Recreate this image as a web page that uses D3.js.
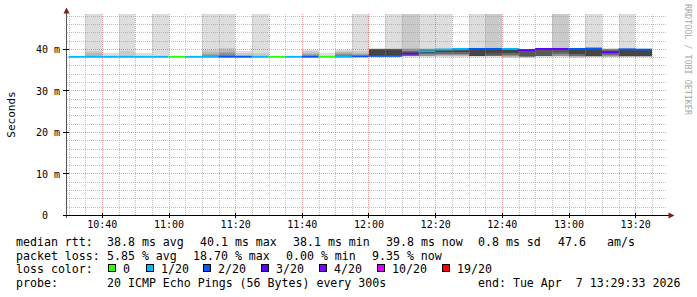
<!DOCTYPE html>
<html><head><meta charset="utf-8">
<script src="https://cdn.jsdelivr.net/npm/d3@7"></script>
<style>
html,body{margin:0;padding:0;background:#fff;}
svg{display:block;}
text{font-family:"DejaVu Sans Mono",monospace;fill:#000;}
</style></head><body>
<svg id="c" width="697" height="297"></svg>
<script>
// ---------------- data ----------------
const startTime = "2026-04-07T10:29:33";
const endTime   = "2026-04-07T13:29:33";
const stepSeconds = 300;
// end time of each 5-minute step
const stepEnds = ["10:35","10:40","10:45","10:50","10:55","11:00","11:05","11:10","11:15","11:20",
  "11:25","11:30","11:35","11:40","11:45","11:50","11:55","12:00","12:05","12:10",
  "12:15","12:20","12:25","12:30","12:35","12:40","12:45","12:50","12:55","13:00",
  "13:05","13:10","13:15","13:20","13:25"];
// median rtt (ms) per step
const medians = [38.1,38.1,38.1,38.1,38.1,38.1,38.1,38.1,38.1,38.1,
  38.1,38.1,38.1,38.1,38.1,38.1,38.1,38.2,38.3,38.3,
  38.85,39.4,39.85,40.0,40.0,40.0,40.0,39.7,40.0,40.0,
  40.0,40.1,39.2,39.9,39.8];
// lost pings (of 20) per step
const lossCount = [1,1,1,1,1,1,0,1,1,2,
  2,1,0,1,2,0,1,2,2,2,
  3,1,1,1,2,2,1,3,3,3,
  2,2,3,2,2];
// received ping rtts (ms, sorted) per step
const pings = [
  [38.0,38.0,38.1,38.1,38.1,38.1,38.1,38.1,38.1,38.1,38.1,38.1,38.1,38.1,38.1,38.1,38.1,38.2,38.2],
  [38.0,38.0,38.1,38.1,38.1,38.1,38.1,38.1,38.1,38.1,38.1,38.1,38.2,38.2,38.3,38.4,38.9,39.6,55],
  [38.0,38.1,38.1,38.1,38.1,38.1,38.1,38.1,38.1,38.1,38.1,38.1,38.1,38.1,38.1,38.1,38.1,38.2,39.0],
  [38.0,38.1,38.1,38.1,38.1,38.1,38.1,38.1,38.1,38.1,38.1,38.1,38.1,38.1,38.1,38.3,38.4,39.4,55],
  [38.0,38.1,38.1,38.1,38.1,38.1,38.1,38.1,38.1,38.1,38.1,38.1,38.1,38.1,38.1,38.1,38.1,38.2,39.0],
  [38.0,38.1,38.1,38.1,38.1,38.1,38.1,38.1,38.1,38.1,38.1,38.1,38.1,38.1,38.1,38.1,38.1,38.3,60],
  [38.0,38.1,38.1,38.1,38.1,38.1,38.1,38.1,38.1,38.1,38.1,38.1,38.1,38.1,38.1,38.1,38.1,38.1,38.1,38.2],
  [38.0,38.1,38.1,38.1,38.1,38.1,38.1,38.1,38.1,38.1,38.1,38.1,38.1,38.1,38.1,38.1,38.1,38.1,38.2],
  [38.0,38.1,38.1,38.1,38.1,38.1,38.1,38.1,38.1,38.1,38.1,38.1,38.1,38.3,38.5,38.8,39.3,39.7,58],
  [38.0,38.1,38.1,38.1,38.1,38.1,38.1,38.1,38.1,38.1,38.1,38.3,38.6,38.9,39.3,39.8,40.2,62],
  [38.0,38.1,38.1,38.1,38.1,38.1,38.1,38.1,38.1,38.1,38.1,38.1,38.1,38.1,38.3,38.6,39.0,39.4],
  [38.0,38.1,38.1,38.1,38.1,38.1,38.1,38.1,38.1,38.1,38.1,38.1,38.1,38.1,38.1,38.1,38.4,39.0,56],
  [38.0,38.1,38.1,38.1,38.1,38.1,38.1,38.1,38.1,38.1,38.1,38.1,38.1,38.1,38.1,38.1,38.1,38.1,38.1,38.2],
  [38.0,38.1,38.1,38.1,38.1,38.1,38.1,38.1,38.1,38.1,38.1,38.1,38.1,38.1,38.1,38.1,38.1,38.1,38.2],
  [38.0,38.1,38.1,38.1,38.1,38.1,38.1,38.1,38.1,38.1,38.1,38.1,38.3,38.5,38.8,39.1,39.5,39.8],
  [38.0,38.1,38.1,38.1,38.1,38.1,38.1,38.1,38.1,38.1,38.1,38.1,38.1,38.1,38.1,38.1,38.1,38.1,38.2,39.0],
  [38.0,38.1,38.1,38.1,38.1,38.1,38.1,38.1,38.1,38.1,38.1,38.1,38.3,38.5,38.7,39.0,39.3,39.6,39.8],
  [38.1,38.2,38.2,38.2,38.2,38.2,38.2,38.2,38.2,38.2,38.2,38.2,38.2,38.4,38.7,39.1,39.6,60],
  [38.1,38.1,38.2,38.2,38.2,38.2,38.2,38.2,38.3,39.8,39.9,39.9,39.9,39.9,40.0,40.0,40.0,40.1],
  [38.1,38.2,38.2,38.2,38.2,38.2,38.2,38.2,38.3,39.8,39.9,39.9,39.9,40.0,40.0,40.0,40.1,60],
  [38.1,38.2,38.2,38.2,38.4,38.4,38.4,38.8,39.1,39.3,39.5,39.6,39.8,40.0,40.1,55,60],
  [38.1,38.2,38.2,38.4,38.4,38.7,38.7,39.0,39.0,39.3,39.4,39.6,39.8,39.8,39.9,39.9,40.0,40.1,58],
  [38.1,38.2,38.2,38.5,38.5,38.8,38.8,39.2,39.2,39.5,39.5,39.8,39.9,39.9,39.9,40.0,40.0,40.1,60],
  [38.1,38.2,38.2,38.5,38.5,38.8,38.8,39.2,39.2,39.6,39.6,39.9,39.9,40.0,40.0,40.0,40.1,40.1,40.2],
  [38.1,38.2,38.2,38.2,38.3,38.3,38.3,38.4,38.4,39.9,40.0,40.0,40.0,40.0,40.1,40.1,40.2,58],
  [38.1,38.2,38.2,38.2,38.3,38.3,38.3,38.5,39.0,39.9,40.0,40.0,40.0,40.0,40.1,40.1,55,62],
  [37.8,38.0,38.0,38.2,38.2,38.5,38.5,38.9,38.9,39.4,39.9,39.9,40.0,40.0,40.0,40.1,40.1,40.2,40.3],
  [37.9,38.0,38.0,38.1,38.1,38.1,38.2,38.2,39.7,39.8,39.8,39.8,39.9,39.9,39.9,40.0,40.0],
  [38.1,38.2,38.2,38.2,38.3,38.3,38.3,38.3,40.0,40.0,40.0,40.1,40.1,40.1,40.1,40.2,40.2],
  [38.1,38.2,38.2,38.4,38.4,38.7,38.7,39.2,39.9,40.0,40.0,40.0,40.1,40.1,40.1,55,60],
  [37.8,38.0,38.0,38.2,38.2,38.4,38.4,38.8,38.8,39.9,40.0,40.0,40.0,40.0,40.1,40.1,40.1,40.2],
  [38.0,38.1,38.1,38.2,38.2,38.2,38.3,38.3,38.3,40.0,40.1,40.1,40.1,40.1,40.2,40.2,40.3,58],
  [38.0,38.1,38.1,38.3,38.3,38.6,38.6,39.0,39.2,39.5,39.7,39.7,39.9,39.9,39.9,40.0,40.1],
  [38.0,38.1,38.1,38.2,38.2,38.2,38.3,38.3,38.3,39.8,39.9,39.9,39.9,40.0,40.0,40.0,40.1,57],
  [38.0,38.1,38.1,38.2,38.2,38.2,38.3,38.3,38.3,39.7,39.8,39.8,39.8,39.9,39.9,39.9,40.0,40.1]
];
const yMax = 48.4;
const yTicks = [0,10,20,30,40];
const yTickLabels = ["0  ","10 m","20 m","30 m","40 m"];
const xTickLabels = ["10:40","11:00","11:20","11:40","12:00","12:20","12:40","13:00","13:20"];
const lossLevels = [0,1,2,3,4,10,19];
const lossLabels = ["0","1/20","2/20","3/20","4/20","10/20","19/20"];
const lossColors = ["#26ff00","#00b8ff","#0059ff","#5e00ff","#7e00ff","#dd00ff","#ff0000"];
const yTitle = "Seconds";
const rttLabel = "median rtt:";
const rttStats = ["38.8 ms avg","40.1 ms max","38.1 ms min","39.8 ms now","0.8 ms sd","47.6","am/s"];
const lossLabel = "packet loss:";
const lossStats = ["5.85 % avg","18.70 % max","0.00 % min","9.35 % now"];
const colorLabel = "loss color:";
const probeLabel = "probe:";
const probeText = "20 ICMP Echo Pings (56 Bytes) every 300s";
const endText = "end: Tue Apr  7 13:29:33 2026";
const watermark = "RRDTOOL / TOBI OETIKER";

// ---------------- layout ----------------
const L = {left:67, right:667, top:14, bottom:215};
const rttX = [107,200,293,386,478,558,607];
const lossX = [107,193,286,372];
const boxX = [108,146,203,261,319,377,442];
const rowY = [245.6,259.5,273.4,287.3];

const svg = d3.select("#c");
const parse = d3.timeParse("%Y-%m-%dT%H:%M:%S");
const day = "2026-04-07T";
const x = d3.scaleTime().domain([parse(startTime), parse(endTime)]).range([L.left, L.right]);
const y = d3.scaleLinear().domain([0, yMax]).range([L.bottom, L.top]);
const ends = stepEnds.map(s => parse(day + s + ":00"));
const starts = ends.map(d => new Date(d.getTime() - stepSeconds*1000));

svg.append("rect").attr("width",697).attr("height",297).attr("fill","#fff");

// smoke
const gSmoke = svg.append("g").attr("shape-rendering","crispEdges");
pings.forEach((vals, k) => {
  const n = vals.length;
  const half = Math.floor(n/2);
  for (let i = 0; i < half; i++) {
    const lo = Math.min(vals[i], yMax), hi = Math.min(vals[n-1-i], yMax);
    const c = 50 + Math.floor(19*(9-i));
    const h = Math.round(c).toString(16).padStart(2,"0");
    gSmoke.append("rect")
      .attr("x", x(starts[k])).attr("width", x(ends[k]) - x(starts[k]))
      .attr("y", y(hi)).attr("height", Math.max(0, y(lo) - y(hi)))
      .attr("fill", "#" + h + h + h);
  }
});

// grid
const gGrid = svg.append("g").attr("shape-rendering","crispEdges");
const minorX = d3.timeMinute.every(5).range(x.domain()[0], x.domain()[1]);
const majorXT = d3.timeMinute.every(20).range(x.domain()[0], x.domain()[1]);
const isMajorT = d => d.getMinutes() % 20 === 0;
minorX.filter(d => !isMajorT(d)).forEach(d => {
  gGrid.append("line").attr("x1", Math.round(x(d))+0.5).attr("x2", Math.round(x(d))+0.5)
    .attr("y1", L.top).attr("y2", L.bottom)
    .attr("stroke","rgba(150,150,150,0.6)").attr("stroke-dasharray","1,1");
});
d3.range(0, yMax, 2).filter(v => v % 10 !== 0).forEach(v => {
  gGrid.append("line").attr("x1", L.left).attr("x2", L.right)
    .attr("y1", Math.round(y(v))+0.5).attr("y2", Math.round(y(v))+0.5)
    .attr("stroke","rgba(150,150,150,0.6)").attr("stroke-dasharray","1,1");
});
majorXT.forEach(d => {
  gGrid.append("line").attr("x1", Math.round(x(d))+0.5).attr("x2", Math.round(x(d))+0.5)
    .attr("y1", L.top).attr("y2", L.bottom)
    .attr("stroke","rgba(210,40,40,0.45)").attr("stroke-dasharray","1,1");
});
yTicks.filter(v => v > 0).forEach(v => {
  gGrid.append("line").attr("x1", L.left).attr("x2", L.right)
    .attr("y1", Math.round(y(v))+0.5).attr("y2", Math.round(y(v))+0.5)
    .attr("stroke","rgba(210,40,40,0.45)").attr("stroke-dasharray","1,1");
});

// median lines coloured by loss
const lossColor = l => { let c = lossColors[0]; lossLevels.forEach((lv,i) => { if (l >= lv) c = lossColors[i]; }); return c; };
const gMed = svg.append("g");
medians.forEach((m, k) => {
  gMed.append("rect")
    .attr("x", x(starts[k])).attr("width", x(ends[k]) - x(starts[k]))
    .attr("y", y(m) - 0.9).attr("height", 1.8)
    .attr("fill", lossColor(lossCount[k]));
});

// axes
const xAxis = d3.axisBottom(x).tickValues(majorXT).tickFormat((d,i) => xTickLabels[i]).tickSize(0).tickPadding(0);
const gx = svg.append("g").attr("transform", `translate(0,${L.bottom})`).call(xAxis);
gx.select(".domain").remove();
gx.selectAll("text").attr("font-family","DejaVu Sans Mono").attr("font-size","10px").attr("dy",null).attr("y", 13.4).attr("fill","#000");

const yAxis = d3.axisLeft(y).tickValues(yTicks).tickFormat((d,i) => yTickLabels[i]).tickSize(0).tickPadding(0);
const gy = svg.append("g").attr("transform", `translate(60,0)`).call(yAxis);
gy.select(".domain").remove();
gy.selectAll("text").attr("font-family","DejaVu Sans Mono").attr("font-size","10px").attr("dy",null).attr("y", 3.8).attr("x",0)
  .attr("xml:space","preserve").style("white-space","pre").attr("fill","#000");

// axis lines & ticks
svg.append("line").attr("x1", 63).attr("x2", 670).attr("y1", L.bottom+0.5).attr("y2", L.bottom+0.5).attr("stroke","#000").attr("shape-rendering","crispEdges");
svg.append("line").attr("x1", 66.5).attr("x2", 66.5).attr("y1", L.bottom+3).attr("y2", 10).attr("stroke","#555").attr("shape-rendering","crispEdges");
majorXT.forEach(d => svg.append("line").attr("x1", Math.round(x(d))+0.5).attr("x2", Math.round(x(d))+0.5)
  .attr("y1", L.bottom-2).attr("y2", L.bottom+3).attr("stroke","#000").attr("shape-rendering","crispEdges"));
yTicks.forEach(v => svg.append("line").attr("x1", 63).attr("x2", 69).attr("y1", Math.round(y(v))+0.5).attr("y2", Math.round(y(v))+0.5)
  .attr("stroke","#000").attr("shape-rendering","crispEdges"));
// arrows
svg.append("path").attr("d","M63.5,13.5 L69.5,13.5 L66.5,7.5 Z").attr("fill","#7f1f1f");
svg.append("path").attr("d","M668.5,212.5 L668.5,218.5 L674.5,215.5 Z").attr("fill","#7f1f1f");

// y title
svg.append("text").attr("transform", `translate(14.5,${(L.top+L.bottom)/2}) rotate(-90)`)
  .attr("text-anchor","middle").attr("font-size","11px").text(yTitle);
// watermark
svg.append("text").attr("transform", `translate(684.5,4) rotate(90)`)
  .attr("font-size","8.4px").style("fill","#a8a8a8").text(watermark);

// legend
const leg = svg.append("g").attr("font-size","11.6px");
const t = (s, xx, yy) => leg.append("text").attr("x", xx).attr("y", yy).attr("xml:space","preserve").style("white-space","pre").text(s);
t(rttLabel, 16, rowY[0]);
rttStats.forEach((s,i) => t(s, rttX[i], rowY[0]));
t(lossLabel, 16, rowY[1]);
lossStats.forEach((s,i) => t(s, lossX[i], rowY[1]));
t(colorLabel, 16, rowY[2]);
lossLabels.forEach((s,i) => {
  leg.append("rect").attr("x", boxX[i]+0.5).attr("y", rowY[2]-8.5).attr("width",7).attr("height",7)
    .attr("fill", lossColors[i]).attr("stroke","#000").attr("shape-rendering","crispEdges");
  t(s, boxX[i]+15, rowY[2]);
});
t(probeLabel, 16, rowY[3]);
t(probeText, 107, rowY[3]);
t(endText, 478, rowY[3]);
</script>
</body></html>
